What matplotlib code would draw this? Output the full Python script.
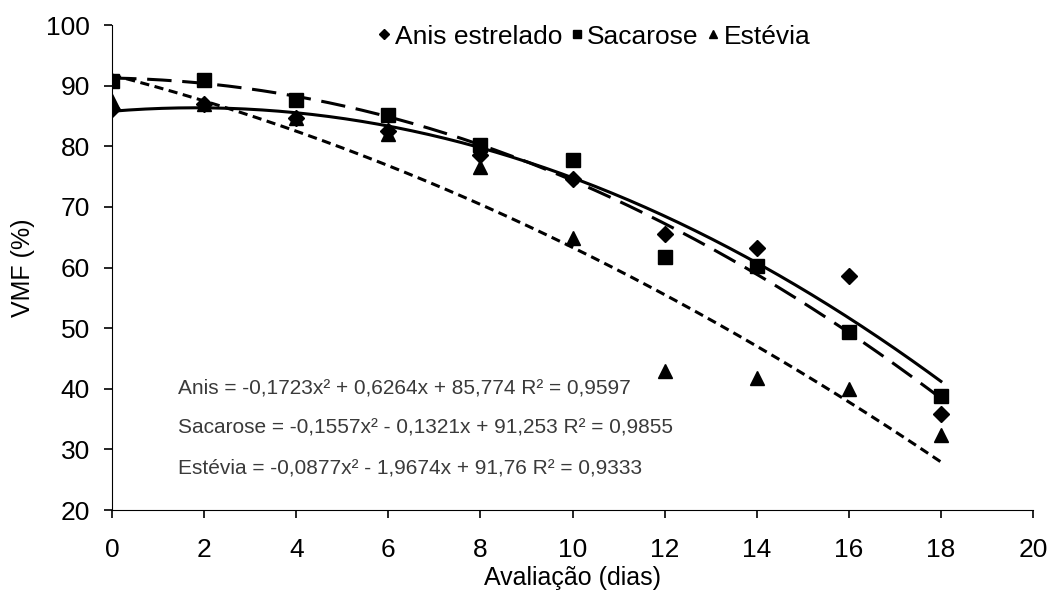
import numpy as np
import matplotlib
matplotlib.use("Agg")
import matplotlib.pyplot as plt

plt.rcParams['font.family'] = ['Liberation Sans', 'DejaVu Sans']

# dados
dias = [0, 2, 4, 6, 8, 10, 12, 14, 16, 18]
anis = [86.2, 87.0, 84.6, 82.5, 78.5, 74.6, 65.5, 63.2, 58.6, 35.9]
sacarose = [90.7, 91.0, 87.7, 85.2, 80.2, 77.7, 61.7, 60.2, 49.4, 38.8]
estevia = [87.5, 87.0, 84.6, 82.0, 76.5, 64.8, 42.9, 41.8, 40.0, 32.4]

# coeficientes das linhas de tendência (polinômio de 2ª ordem)
coef_anis = [-0.1723, 0.6264, 85.774]
coef_sacarose = [-0.1557, -0.1321, 91.253]
coef_estevia = [-0.0877, -1.9674, 91.76]

equacoes = [
    "Anis = -0,1723x² + 0,6264x + 85,774 R² = 0,9597",
    "Sacarose = -0,1557x² - 0,1321x + 91,253 R² = 0,9855",
    "Estévia = -0,0877x² - 1,9674x + 91,76 R² = 0,9333",
]

fig = plt.figure(figsize=(10.61, 6.01), dpi=100)
ax = fig.add_axes([0.1056, 0.1514, 0.868, 0.807])

xs = np.linspace(0, 18, 200)
ax.plot(xs, np.polyval(coef_anis, xs), color='black', lw=2.2, ls='-')
ax.plot(xs, np.polyval(coef_sacarose, xs), color='black', lw=2.2, dashes=(8, 3.5))
ax.plot(xs, np.polyval(coef_estevia, xs), color='black', lw=2.2, dashes=(3, 1.8))

ax.plot(dias, anis, 'D', color='black', ms=8, ls='none', label='Anis estrelado')
ax.plot(dias, sacarose, 's', color='black', ms=10.5, ls='none', label='Sacarose')
ax.plot(dias, estevia, '^', color='black', ms=10.5, ls='none', label='Estévia')

for i, eq in enumerate(equacoes):
    ax.text(1.43, 40.1 - i * 6.6, eq, fontsize=15, color='#3a3a3a', va='center', ha='left')

ax.set_xlim(0, 20)
ax.set_ylim(20, 100)
ax.set_xticks(range(0, 21, 2))
ax.set_yticks(range(20, 101, 10))
ax.spines['top'].set_visible(False)
ax.spines['right'].set_visible(False)
ax.tick_params(labelsize=19, length=6, width=1.2, direction='out')
ax.tick_params(axis='x', pad=14)
ax.tick_params(axis='y', pad=10)
ax.set_xlabel('Avaliação (dias)', fontsize=18, labelpad=3)
ax.set_ylabel('VMF (%)', fontsize=18, labelpad=8)

leg = ax.legend(loc='upper center', bbox_to_anchor=(0.522, 1.05), ncol=3, frameon=False,
                fontsize=19, handletextpad=0.05, columnspacing=0.2, handlelength=0.7,
                markerscale=0.6)

fig.savefig('out.png', dpi=100)
